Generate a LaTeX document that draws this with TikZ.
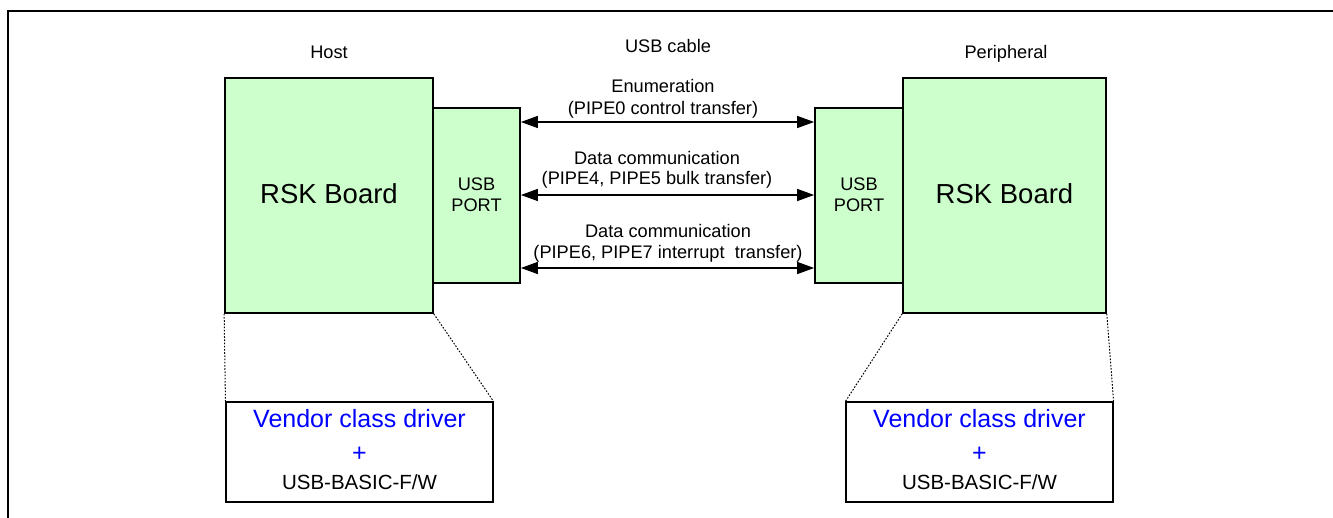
\documentclass[tikz,border=0pt]{standalone}
\usepackage{fontspec}
\setmainfont{Liberation Sans}
\usetikzlibrary{arrows.meta}
\definecolor{boardgreen}{RGB}{204,255,204}
\definecolor{vendorblue}{RGB}{0,0,255}
\begin{document}
\begin{tikzpicture}[x=1pt,y=-1pt,
  board/.style={draw=black,line width=1.7pt,fill=boardgreen,inner sep=0pt},
  vbox/.style={draw=black,line width=1.1pt,fill=white,inner sep=0pt,minimum width=267pt,minimum height=100pt},
  lbl/.style={anchor=base,inner sep=0pt,font=\fontsize{18.2}{20}\selectfont},
  big/.style={anchor=base,inner sep=0pt,font=\fontsize{27.5}{30}\selectfont},
  vtxt/.style={anchor=base,inner sep=0pt,text=vendorblue,font=\fontsize{25}{28}\selectfont},
  ftxt/.style={anchor=base,inner sep=0pt,font=\fontsize{20.5}{23}\selectfont},
  link/.style={line width=1.3pt,{Triangle[length=17pt,width=12pt]}-{Triangle[length=17pt,width=12pt]}},
  zoomline/.style={line width=1pt,dash pattern=on 1.6pt off 1.6pt}]
\useasboundingbox (0,0) rectangle (1333,518);
% frame
\coordinate (ftr) at (1333,11);
\coordinate (ftl) at (8,11);
\coordinate (fbl) at (8,518);
\draw[line width=2.2pt] (ftr) -- (ftl) -- (fbl);
% boards
\node[board,minimum width=208pt,minimum height=235pt] (hb) at (329,195.5) {};
\node[board,minimum width=87pt,minimum height=175pt] (hu) at (476.5,195.5) {};
\node[board,minimum width=88pt,minimum height=175pt] (pu) at (859,195.5) {};
\node[board,minimum width=203pt,minimum height=235pt] (pb) at (1004.5,195.5) {};
% board texts
\node[big] (hbt) at (329,204) {RSK Board};
\node[big] (pbt) at (1004.5,204) {RSK Board};
\node[lbl] (hut1) at (476.5,191) {USB};
\node[lbl] (hut2) at (476.5,212) {PORT};
\node[lbl] (put1) at (859,191) {USB};
\node[lbl] (put2) at (859,212) {PORT};
% headings
\node[lbl] (host) at (329,58.5) {Host};
\node[lbl] (cable) at (668,52.5) {USB cable};
\node[lbl] (peri) at (1006,58.5) {Peripheral};
% arrows
\draw[link] ([yshift=73.5pt]hu.east) -- ([yshift=73.5pt]pu.west);
\draw[link] ([yshift=0.5pt]hu.east) -- ([yshift=0.5pt]pu.west);
\draw[link] ([yshift=-72.5pt]hu.east) -- ([yshift=-72.5pt]pu.west);
% arrow labels
\node[lbl] (l1a) at (663,92.5) {Enumeration};
\node[lbl] (l1b) at (663,115) {(PIPE0 control transfer)};
\node[lbl] (l2a) at (657,165) {Data communication};
\node[lbl] (l2b) at (657,185) {(PIPE4, PIPE5 bulk transfer)};
\node[lbl] (l3a) at (668,238) {Data communication};
\node[lbl] (l3b) at (668,259) {(PIPE6, PIPE7 interrupt\ \ transfer)};
% vendor boxes
\node[vbox] (hv) at (359.5,452) {};
\node[vbox] (pv) at (979.5,452) {};
\node[vtxt] (hv1) at (359.5,428) {Vendor class driver};
\node[vtxt] (hv2) at (359.5,461) {+};
\node[ftxt] (hv3) at (359.5,489) {USB-BASIC-F/W};
\node[vtxt] (pv1) at (979.5,428) {Vendor class driver};
\node[vtxt] (pv2) at (979.5,461) {+};
\node[ftxt] (pv3) at (979.5,489) {USB-BASIC-F/W};
% zoom lines
\draw[zoomline] (hb.south west) -- (hv.north west);
\draw[zoomline] (hb.south east) -- (hv.north east);
\draw[zoomline] (pb.south west) -- (pv.north west);
\draw[zoomline] (pb.south east) -- (pv.north east);
\end{tikzpicture}
\end{document}
